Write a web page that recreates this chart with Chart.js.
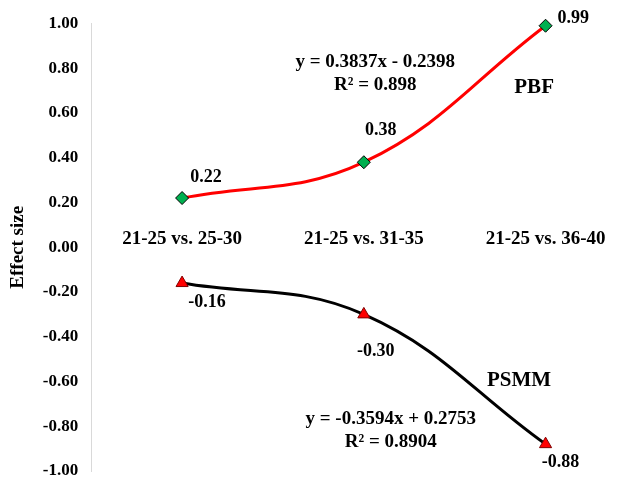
<!DOCTYPE html>
<html>
<head>
<meta charset="utf-8">
<script src="https://cdn.jsdelivr.net/npm/chart.js@4.4.1/dist/chart.umd.min.js"></script>
<style>
  html, body { margin: 0; padding: 0; background: #ffffff; }
  #wrap { width: 627px; height: 479px; }
</style>
</head>
<body>
<div id="wrap"><canvas id="chart" width="627" height="479"></canvas></div>
<script>
// Age-group comparisons and effect sizes
const categories = ['21-25 vs. 25-30', '21-25 vs. 31-35', '21-25 vs. 36-40'];
const pbfValues = [0.22, 0.38, 0.99];
const psmmValues = [-0.16, -0.30, -0.88];
const yTicks = [-1.0, -0.8, -0.6, -0.4, -0.2, 0.0, 0.2, 0.4, 0.6, 0.8, 1.0];

// Trend-line equations
const pbfTrend = ['y = 0.3837x - 0.2398', 'R\u00B2 = 0.898'];
const psmmTrend = ['y = -0.3594x + 0.2753', 'R\u00B2 = 0.8904'];

const FONT = "'Liberation Serif', 'Times New Roman', serif";

const toPoints = vals => vals.map((v, i) => ({ x: i + 1, y: v }));

// Value labels beside each marker (pixel offsets + alignment)
const labelStyle = {
  0: [ { dx: 24, dy: -21, align: 'center' }, { dx: 17, dy: -32, align: 'center' }, { dx: 12, dy: -7, align: 'left' } ],
  1: [ { dx: 25, dy: 19, align: 'center' }, { dx: 12, dy: 37, align: 'center' }, { dx: 15, dy: 18, align: 'center' } ]
};

// Free text placed in data space
const textAnnotations = [
  { text: pbfTrend[0], x: 2.063, y: 0.828, size: 19 },
  { text: pbfTrend[1], x: 2.063, y: 0.725, size: 19 },
  { text: 'PBF', x: 2.937, y: 0.712, size: 21 },
  { text: 'PSMM', x: 2.854, y: -0.596, size: 21 },
  { text: psmmTrend[0], x: 2.148, y: -0.770, size: 19 },
  { text: psmmTrend[1], x: 2.148, y: -0.873, size: 19 }
];

const labelsPlugin = {
  id: 'valueLabels',
  afterDatasetsDraw(chart) {
    const ctx = chart.ctx;
    ctx.save();
    ctx.fillStyle = '#000';
    ctx.textBaseline = 'middle';
    chart.data.datasets.forEach((ds, di) => {
      const meta = chart.getDatasetMeta(di);
      meta.data.forEach((pt, i) => {
        const st = labelStyle[di][i];
        ctx.font = 'bold 18px ' + FONT;
        ctx.textAlign = st.align;
        ctx.fillText(ds.data[i].y.toFixed(2), pt.x + st.dx, pt.y + st.dy);
      });
    });
    const xs = chart.scales.x, ys = chart.scales.y;
    textAnnotations.forEach(a => {
      ctx.font = 'bold ' + a.size + 'px ' + FONT;
      ctx.textAlign = 'center';
      ctx.fillText(a.text, xs.getPixelForValue(a.x), ys.getPixelForValue(a.y));
    });
    ctx.restore();
  }
};

new Chart(document.getElementById('chart'), {
  type: 'line',
  data: {
    datasets: [
      {
        label: 'PBF',
        data: toPoints(pbfValues),
        borderColor: '#ff0000',
        borderWidth: 3,
        tension: 0.4,
        pointStyle: 'rectRot',
        pointRadius: 6.5,
        pointBackgroundColor: '#00b050',
        pointBorderColor: '#000000',
        pointBorderWidth: 1,
        clip: false
      },
      {
        label: 'PSMM',
        data: toPoints(psmmValues),
        borderColor: '#000000',
        borderWidth: 3,
        tension: 0.4,
        pointStyle: 'triangle',
        pointRadius: 7,
        pointBackgroundColor: '#ff0000',
        pointBorderColor: '#7f0000',
        pointBorderWidth: 1,
        clip: false
      }
    ]
  },
  options: {
    responsive: false,
    animation: false,
    layout: { padding: { top: 23.5, bottom: 4.5, right: 7, left: 7 } },
    plugins: { legend: { display: false }, tooltip: { enabled: false } },
    scales: {
      x: {
        type: 'linear',
        position: { y: 0 },
        min: 0.5,
        max: 3.404,
        afterBuildTicks(scale) {
          scale.ticks = categories.map((c, i) => ({ value: i + 1 }));
        },
        afterFit(scale) {
          scale.height = 0;
        },
        grid: { display: false, drawTicks: false },
        border: { display: false },
        ticks: {
          autoSkip: false,
          maxRotation: 0,
          padding: -20,
          color: '#000',
          font: { family: FONT, size: 19, weight: 'bold' },
          callback: v => categories[Math.round(v) - 1]
        }
      },
      y: {
        min: -1,
        max: 1,
        afterBuildTicks(scale) {
          scale.ticks = yTicks.map(v => ({ value: v }));
        },
        afterFit(scale) {
          // end labels may overhang the plot edges
          scale.paddingTop = 0;
          scale.paddingBottom = 0;
        },
        grid: { display: false, drawTicks: false },
        border: { display: true, color: '#d9d9d9', width: 1 },
        ticks: {
          padding: 13,
          color: '#000',
          font: { family: FONT, size: 17, weight: 'bold' },
          callback: v => Number(v).toFixed(2)
        },
        title: {
          display: true,
          text: 'Effect size',
          color: '#000',
          padding: { top: 0, bottom: 0 },
          font: { family: FONT, size: 19, weight: 'bold' }
        }
      }
    }
  },
  plugins: [labelsPlugin]
});
</script>
</body>
</html>
